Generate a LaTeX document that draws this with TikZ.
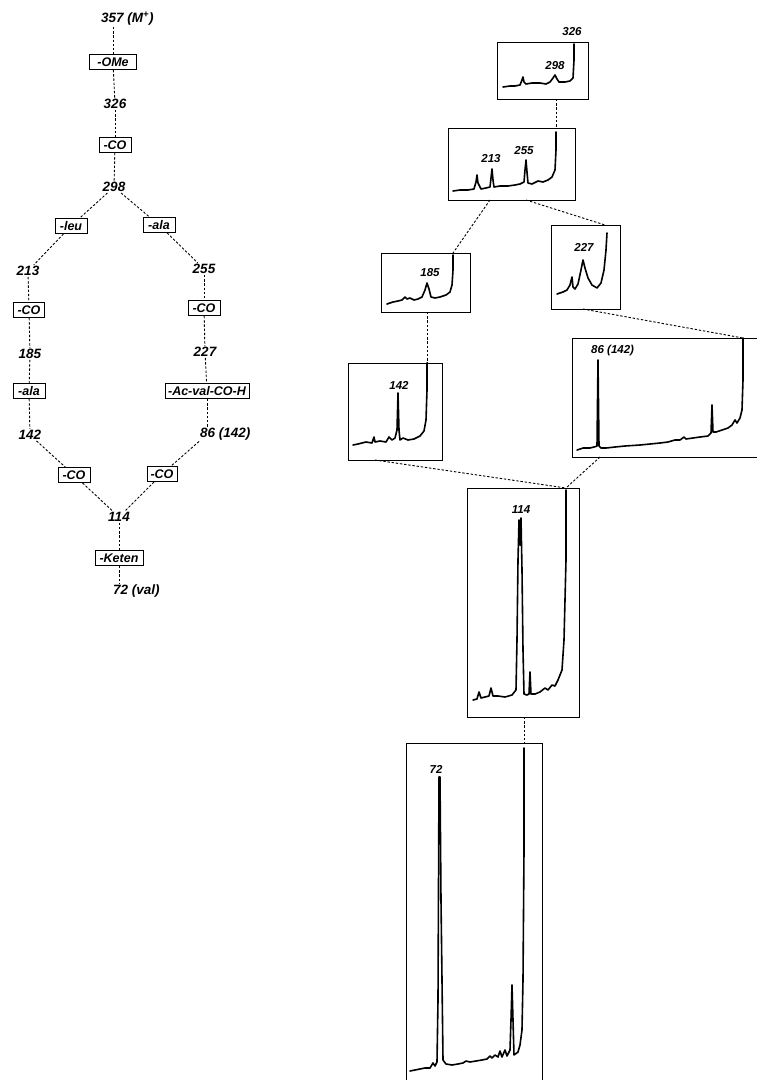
\documentclass[tikz,border=0pt]{standalone}
\usepackage{fontspec}
\setmainfont{Liberation Sans}
\begin{document}
\begin{tikzpicture}[x=1pt,y=-1pt,
  lab/.style={font=\fontsize{13.5}{15}\selectfont\bfseries\itshape, inner sep=1pt},
  slab/.style={font=\fontsize{11.5}{13}\selectfont\bfseries\itshape, inner sep=1pt},
  tbox/.style={draw, line width=0.9pt, font=\fontsize{12.5}{14}\selectfont\bfseries\itshape, inner xsep=1pt, inner ysep=1pt, minimum height=15},
  panel/.style={draw, line width=0.9pt, inner sep=0pt, outer sep=0pt},
  conn/.style={line width=0.9pt, dash pattern=on 2.4pt off 1.8pt},
  spec/.style={line width=1.6pt, line join=round, line cap=round}]
\useasboundingbox (0,0) rectangle (757,1080);
\clip (0,0) rectangle (757,1080);
\fill[white] (0,0) rectangle (757,1080);

% ---------------- left fragmentation tree ----------------
\node[lab, anchor=west] (n357) at (100,19) {357 (M\textsuperscript{+})};
\node[tbox, minimum width=47] (ome) at (113,62) {-OMe};
\node[lab] (n326) at (115,104) {326};
\node[tbox, minimum width=32] (co1) at (115,145) {-CO};
\node[lab] (n298) at (114,187) {298};
\node[tbox, minimum width=32] (leu) at (71,226) {-leu};
\node[tbox, minimum width=32] (ala1) at (159,225) {-ala};
\node[lab] (n213) at (28,271) {213};
\node[lab] (n255) at (204,269) {255};
\node[tbox, minimum width=31] (coL) at (29,310) {-CO};
\node[tbox, minimum width=32] (coR) at (204,308) {-CO};
\node[lab] (n185) at (30,354) {185};
\node[lab] (n227) at (205,352) {227};
\node[tbox, minimum width=32] (ala2) at (29,391) {-ala};
\node[tbox, minimum width=84] (acval) at (207,391) {-Ac-val-CO-H};
\node[lab] (n142) at (30,435) {142};
\node[lab, anchor=west] (n86) at (199,434) {86 (142)};
\node[tbox, minimum width=32] (coLL) at (74,475) {-CO};
\node[tbox, minimum width=30] (coRR) at (162,474) {-CO};
\node[lab] (n114) at (119,517) {114};
\node[tbox, minimum width=48] (keten) at (119,558) {-Keten};
\node[lab, anchor=west] (n72) at (112,591) {72 (val)};

\draw[conn] (n357.south -| ome) -- (ome);
\draw[conn] (ome) -- (n326);
\draw[conn] (n326) -- (co1);
\draw[conn] (co1) -- (n298);
\draw[conn] (n298) -- (leu);
\draw[conn] (n298) -- (ala1);
\draw[conn] (leu) -- (n213);
\draw[conn] (ala1) -- (n255);
\draw[conn] (n213) -- (coL);
\draw[conn] (coL) -- (n185);
\draw[conn] (n185) -- (ala2);
\draw[conn] (ala2) -- (n142);
\draw[conn] (n255) -- (coR);
\draw[conn] (coR) -- (n227);
\draw[conn] (n227) -- (acval);
\draw[conn] (acval.south) -- (acval.south |- n86.north);
\draw[conn] (n142) -- (coLL);
\draw[conn] (n86.south west) -- (coRR);
\draw[conn] (coLL) -- (n114);
\draw[conn] (coRR) -- (n114);
\draw[conn] (n114) -- (keten);
\draw[conn] (keten) -- (n72.north -| keten);

% ---------------- spectra panels ----------------
\node[panel, minimum width=91, minimum height=57] (p1) at (542.5,70.5) {};
\node[panel, minimum width=127, minimum height=72] (p2) at (511.5,164) {};
\node[panel, minimum width=89, minimum height=59] (p3) at (425.5,282.5) {};
\node[panel, minimum width=69, minimum height=84] (p4) at (585.5,267) {};
\node[panel, minimum width=94, minimum height=97] (p5) at (395,411.5) {};
\node[panel, minimum width=208, minimum height=119] (p6) at (676,397.5) {};
\node[panel, minimum width=112, minimum height=229] (p7) at (523,602.5) {};
\node[panel, minimum width=136, minimum height=345] (p8) at (474,915.5) {};

% peak labels
\node[slab] (l326) at (572,32) {326};
\node[slab] (l298) at (555,66) {298};
\node[slab] (l213) at (491,159) {213};
\node[slab] (l255) at (524,151) {255};
\node[slab] (l185) at (430,273) {185};
\node[slab] (l227) at (584,247) {227};
\node[slab] (l142) at (399,385) {142};
\node[slab, anchor=west] (l86) at (590,351) {86 (142)};
\node[slab] (l114) at (521,510) {114};
\node[slab] (l72) at (436,769) {72};

% spectra traces
\draw[spec] (503,87) -- (510,86) -- (515,86) -- (520,85) -- (522,80) -- (523,77) -- (524,82) -- (526,84) -- (532,83) -- (540,83) -- (546,84) -- (550,82) -- (553,78) -- (555,75) -- (557,79) -- (559,82) -- (565,82) -- (570,81) -- (573,78) -- (574,60) -- (574,44);
\draw[spec] (453,191) -- (460,190) -- (468,190) -- (474,189) -- (476,182) -- (477,175) -- (478,183) -- (481,189) -- (486,188) -- (490,187) -- (491,178) -- (492,169) -- (493,180) -- (494,187) -- (500,186) -- (508,186) -- (515,185) -- (520,184) -- (524,182) -- (525,170) -- (526,160) -- (527,172) -- (528,183) -- (532,184) -- (538,181) -- (543,182) -- (548,180) -- (552,177) -- (555,170) -- (556,150) -- (556,132);
\draw[spec] (387,304) -- (393,302) -- (398,301) -- (402,300) -- (405,297) -- (407,299) -- (410,298) -- (414,300) -- (418,299) -- (422,297) -- (425,290) -- (427,283) -- (429,289) -- (431,297) -- (435,298) -- (440,297) -- (446,295) -- (450,292) -- (452,285) -- (453,270) -- (453,255);
\draw[spec] (557,294) -- (563,292) -- (567,290) -- (570,285) -- (572,277) -- (573,287) -- (575,289) -- (578,284) -- (581,270) -- (583,260) -- (585,268) -- (588,278) -- (592,285) -- (597,288) -- (601,283) -- (604,270) -- (606,250) -- (607,233);
\draw[spec] (353,445) -- (358,444) -- (362,443) -- (366,442) -- (372,443) -- (374,437) -- (375,442) -- (380,441) -- (386,442) -- (389,437) -- (392,440) -- (395,438) -- (397,430) -- (398,393) -- (399,430) -- (400,440) -- (403,438) -- (408,440) -- (414,439) -- (420,436) -- (424,431) -- (426,420) -- (427,390) -- (427,363);
\draw[spec] (577,450) -- (583,448) -- (590,448) -- (594,447) -- (597,446) -- (598,360) -- (599,446) -- (601,448) -- (606,448) -- (615,447) -- (625,446) -- (640,445) -- (650,444) -- (660,443) -- (668,442) -- (675,440) -- (680,440) -- (684,437) -- (686,439) -- (693,438) -- (700,437) -- (708,436) -- (711,433) -- (712,405) -- (713,432) -- (716,432) -- (722,430) -- (728,428) -- (732,425) -- (735,420) -- (737,423) -- (740,418) -- (742,410) -- (743,380) -- (743,338);
\draw[spec] (473,700) -- (477,699) -- (479,692) -- (481,698) -- (485,697) -- (489,696) -- (491,688) -- (493,696) -- (498,696) -- (505,697) -- (512,695) -- (516,690) -- (517,640) -- (518,560) -- (519,520) -- (520,545) -- (521,518) -- (522,570) -- (523,650) -- (524,694) -- (527,695) -- (529,694) -- (530,672) -- (531,694) -- (535,694) -- (540,692) -- (545,688) -- (548,690) -- (552,685) -- (555,686) -- (558,680) -- (562,670) -- (564,640) -- (566,560) -- (566,490);
\draw[spec] (410,1071) -- (415,1070) -- (420,1069) -- (425,1068) -- (430,1068) -- (433,1063) -- (435,1066) -- (437,1062) -- (438,1000) -- (439,777) -- (440,777) -- (441,900) -- (443,1060) -- (446,1064) -- (452,1065) -- (458,1064) -- (463,1063) -- (466,1061) -- (470,1062) -- (476,1061) -- (482,1060) -- (487,1059) -- (490,1056) -- (492,1058) -- (495,1055) -- (498,1057) -- (500,1051) -- (502,1057) -- (505,1050) -- (507,1056) -- (510,1050) -- (511,1020) -- (512,985) -- (513,1020) -- (514,1055) -- (518,1052) -- (520,1045) -- (522,1030) -- (523,980) -- (524,850) -- (524,748);

% connector anchor coordinates
\coordinate (pk2) at (556,132);
\coordinate (c2a) at (490,200);
\coordinate (c2b) at (526,200);
\coordinate (pk3) at (453,255);
\coordinate (pk4) at (605,233);
\coordinate (pk5) at (427,363);
\coordinate (c4) at (583,309);
\coordinate (pk6) at (743,338);
\coordinate (c5) at (375,460);
\coordinate (c6) at (600,457);
\coordinate (pk7) at (566,490);
\coordinate (pk8) at (524,748);

\draw[conn] (p1.south -| pk2) -- (p2.north -| pk2);
\draw[conn] (p2.south -| c2a) -- (p3.north -| pk3);
\draw[conn] (p2.south -| c2b) -- (p4.north -| pk4);
\draw[conn] (p3.south -| pk5) -- (p5.north -| pk5);
\draw[conn] (p4.south -| c4) -- (p6.north -| pk6);
\draw[conn] (p5.south -| c5) -- (p7.north -| pk7);
\draw[conn] (p6.south -| c6) -- (p7.north -| pk7);
\draw[conn] (p7.south -| pk8) -- (p8.north -| pk8);
\end{tikzpicture}
\end{document}
